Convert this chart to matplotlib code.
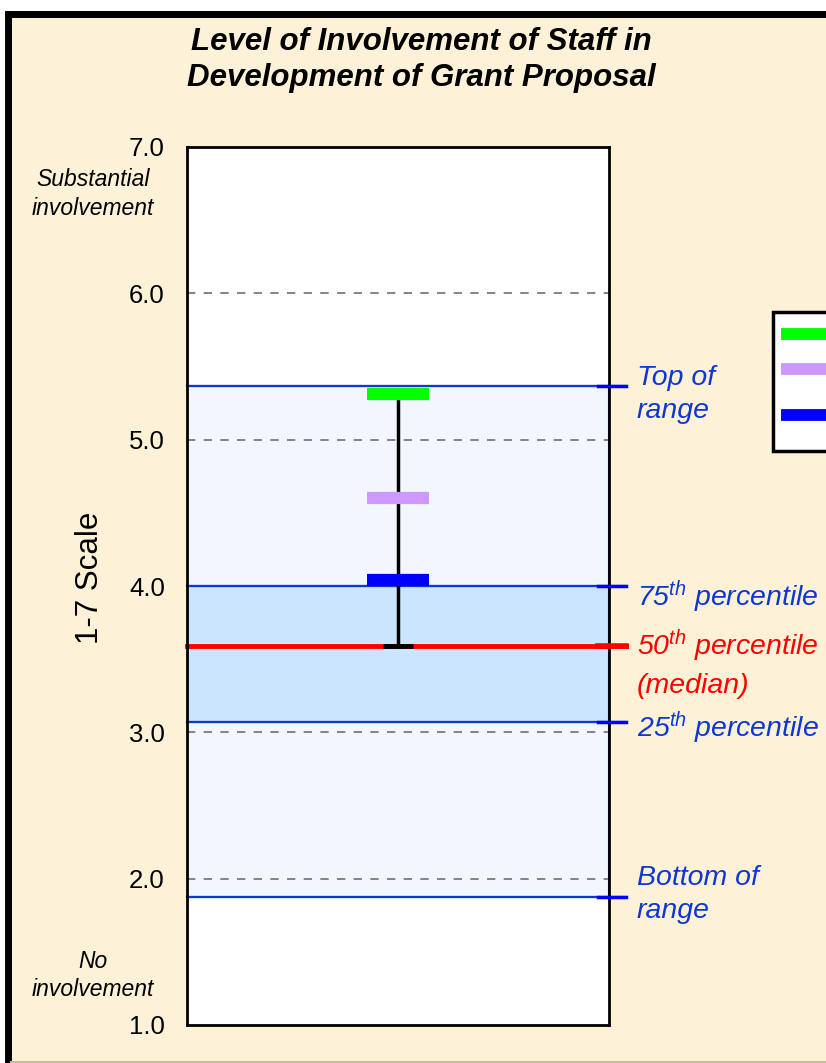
import matplotlib
matplotlib.use("Agg")
import matplotlib.pyplot as plt
from matplotlib.patches import Rectangle
from matplotlib.lines import Line2D
import matplotlib.transforms as mtransforms

plt.rcParams["font.family"] = ["Liberation Sans", "DejaVu Sans"]
plt.rcParams["mathtext.fontset"] = "custom"
plt.rcParams["mathtext.it"] = "Liberation Sans:italic"
plt.rcParams["mathtext.rm"] = "Liberation Sans:italic"

# =========================
# DATA
# =========================
title = "Level of Involvement of Staff in\nDevelopment of Grant Proposal"
y_ticks = [1.0, 2.0, 3.0, 4.0, 5.0, 6.0, 7.0]
grid_levels = [2.0, 3.0, 4.0, 5.0, 6.0]

range_low = 1.875
range_high = 5.37
p25 = 3.07
p50 = 3.59
p75 = 4.0

marker_values = [5.31, 4.60, 4.04]
marker_colors = ["#00FF00", "#CC99FF", "#0000FF"]

BLUE = "#1038D0"
CREAM = "#FDF2D8"

# =========================
# FIGURE
# =========================
fig = plt.figure(figsize=(8.26, 10.63), dpi=100)
fig.patch.set_facecolor("white")

# outer cream panel with thick border
fig.patches.append(Rectangle((8 / 826, -0.01), 1.2, 1 - 14 / 1063 + 0.01,
                             transform=fig.transFigure, facecolor=CREAM,
                             edgecolor="black", linewidth=5, zorder=-10))
fig.lines.append(Line2D([11 / 826, 1], [1.5 / 1063] * 2, transform=fig.transFigure,
                        color="#C9BD9F", linewidth=1.5, zorder=-9))

ax = fig.add_axes([187 / 826, 1 - 1025 / 1063, 422 / 826, 878 / 1063])
ax.set_zorder(1)
ax.set_facecolor("white")
ax.set_ylim(1, 7)
ax.set_xlim(0, 1)
ax.set_xticks([])
ax.set_yticks(y_ticks)
ax.set_yticklabels([f"{v:.1f}" for v in y_ticks], fontsize=18.5)
ax.tick_params(axis="y", length=0, pad=16)
for s in ax.spines.values():
    s.set_linewidth(2)
    s.set_color("black")
    s.set_zorder(6)

# range and interquartile bands
ax.add_patch(Rectangle((0, range_low), 1, range_high - range_low,
                       facecolor="#F2F7FF", edgecolor=BLUE, linewidth=1.5, zorder=1))
ax.add_patch(Rectangle((0, p25), 1, p75 - p25,
                       facecolor="#CCE5FF", edgecolor=BLUE, linewidth=1.5, zorder=1))

for g in grid_levels:
    ax.axhline(g, color="#707070", linewidth=1.2, linestyle=(0, (5, 5)), zorder=2)

# band edge lines extending past the plot
for v in [range_high, p75, p25, range_low]:
    ax.plot([0, 1.04], [v, v], color=BLUE, linewidth=1.6, clip_on=False, zorder=3)
    ax.plot([0.975, 1.04], [v, v], color="#0000FF", linewidth=2.5, clip_on=False, zorder=7)
ax.plot([0, 1.04], [p50, p50], color="#FF0000", linewidth=3.5, clip_on=False, zorder=4)
ax.plot([0.975, 1.04], [p50, p50], color="#FF0000", linewidth=4, clip_on=False, zorder=7)

# error bar from top marker down to median
ax.plot([0.5, 0.5], [p50, max(marker_values)], color="black", linewidth=2.5, zorder=4)
ax.plot([0.465, 0.535], [p50, p50], color="black", linewidth=3.5,
        solid_capstyle="butt", zorder=5)

# markers
for v, c in zip(marker_values, marker_colors):
    ax.plot([0.427, 0.573], [v, v], color=c, linewidth=8.8,
            solid_capstyle="butt", zorder=5)

# right side labels
trans = mtransforms.blended_transform_factory(ax.transAxes, ax.transData)
lab_kw = dict(transform=trans, fontsize=20.5, style="italic", ha="left", va="center")
ax.text(1.066, 5.31, "Top of\nrange", color="#1038D0", linespacing=1.35, **lab_kw)
ax.text(1.066, 3.925, r"75$^{th}$ percentile", color="#1038D0", **lab_kw)
ax.text(1.066, 3.59, r"50$^{th}$ percentile", color="#FF0000", **lab_kw)
ax.text(1.066, 3.32, "(median)", color="#FF0000", **lab_kw)
ax.text(1.066, 3.03, r"25$^{th}$ percentile", color="#1038D0", **lab_kw)
ax.text(1.066, 1.895, "Bottom of\nrange", color="#1038D0", linespacing=1.35, **lab_kw)

# left side labels
ax.text(-0.223, 6.68, "Substantial\ninvolvement", transform=trans, fontsize=16.5,
        style="italic", ha="center", va="center", linespacing=1.3)
ax.text(-0.223, 1.34, "No\ninvolvement", transform=trans, fontsize=16.5,
        style="italic", ha="center", va="center", linespacing=1.3)
fig.text(90 / 826, 1 - 578 / 1063, "1-7 Scale", rotation=90, fontsize=22.5,
         ha="center", va="center")

fig.text(421 / 826, 1 - 60 / 1063, title, fontsize=22.5, fontweight="bold",
         style="italic", ha="center", va="center", linespacing=1.25)

# legend box (labels fall outside the visible area)
fig.patches.append(Rectangle((773 / 826, 1 - 451 / 1063), 0.2, 139 / 1063,
                             transform=fig.transFigure, facecolor="white",
                             edgecolor="black", linewidth=2.5, zorder=5))
for yy, c in zip([334, 369.5, 414.5], marker_colors):
    fig.lines.append(Line2D([781 / 826, 1.02], [1 - yy / 1063] * 2,
                            transform=fig.transFigure, color=c, linewidth=8.5,
                            solid_capstyle="butt", zorder=6))

fig.savefig("out.png", dpi=100, facecolor=fig.get_facecolor())
